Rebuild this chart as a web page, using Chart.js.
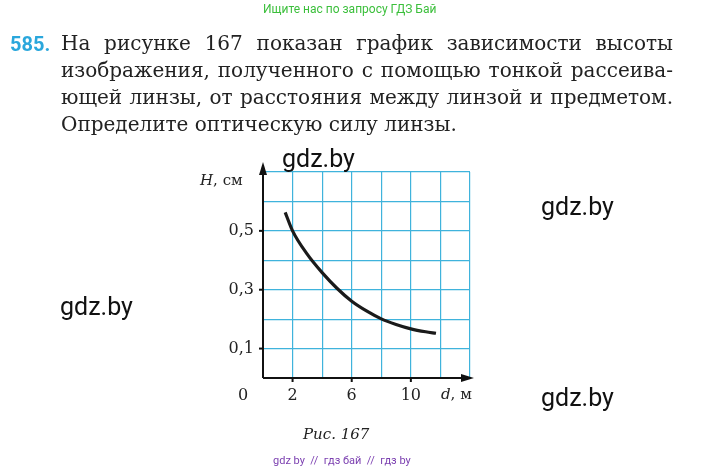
<!DOCTYPE html>
<html><head><meta charset="utf-8">
<script src="https://cdn.jsdelivr.net/npm/chart.js@4"></script>
<style>
body{margin:0;width:701px;height:472px;background:#fff;position:relative;overflow:hidden;font-family:"DejaVu Serif",serif;}
.t{position:absolute;white-space:nowrap;}
.line{position:absolute;left:61px;width:612px;font-size:20px;color:#222;text-align:justify;text-align-last:justify;}
.wm{position:absolute;font-family:Roboto,"Liberation Sans",sans-serif;font-size:25px;color:#111;}
canvas{position:absolute;left:0;top:0;}
</style></head><body>
<canvas id="c" width="701" height="472"></canvas>
<div class="t" style="left:263px;top:2px;font-family:Roboto,sans-serif;font-size:12px;color:#3bbf3b;">Ищите нас по запросу ГДЗ Бай</div>
<div class="t" style="left:10px;top:32px;font-family:Roboto,sans-serif;font-weight:bold;font-size:20px;color:#2aa7dc;">585.</div>
<div class="line" style="top:31px;">На рисунке 167 показан график зависимости высоты</div>
<div class="line" style="top:58px;">изображения, полученного с помощью тонкой рассеива-</div>
<div class="line" style="top:85px;">ющей линзы, от расстояния между линзой и предметом.</div>
<div class="t" style="left:61px;top:112px;font-size:20px;color:#222;">Определите оптическую силу линзы.</div>
<div class="wm" style="left:282px;top:144px;">gdz.by</div>
<div class="wm" style="left:541px;top:192px;">gdz.by</div>
<div class="wm" style="left:60px;top:292px;">gdz.by</div>
<div class="wm" style="left:541px;top:383px;">gdz.by</div>
<div class="t" style="left:200px;top:171px;font-size:15px;color:#222;"><i>H</i>, см</div>
<div class="t" style="left:238px;top:385px;font-size:16px;color:#222;">0</div>
<div class="t" style="left:441px;top:385px;font-size:15px;color:#222;"><i>d</i>, м</div>
<div class="t" style="left:303px;top:425px;font-size:15px;color:#222;"><i>Рис. 167</i></div>
<div class="t" style="left:273px;top:454px;font-family:Roboto,sans-serif;font-size:11px;color:#7b3fb0;">gdz by &nbsp;// &nbsp;гдз бай &nbsp;// &nbsp;гдз by</div>
<script>
const dValues=[1.5,2,3,4,5,6,7,8,9,10,11,11.7];
const hValues=[0.563,0.50,0.42,0.358,0.305,0.261,0.228,0.201,0.182,0.167,0.157,0.152];
const xTickLabels=[2,6,10];
const yTickLabels=[0.1,0.3,0.5];
const axisPlugin={id:'ax',afterDraw(ch){
 const c=ch.ctx,a=ch.chartArea,x=ch.scales.x,y=ch.scales.y;
 const x0=x.getPixelForValue(0),y0=y.getPixelForValue(0);
 c.save();c.strokeStyle='#111';c.fillStyle='#111';c.lineWidth=2;
 c.beginPath();c.moveTo(x0,y0);c.lineTo(x0,a.top-2);c.moveTo(x0,y0);c.lineTo(a.right+1,y0);c.stroke();
 c.beginPath();c.moveTo(x0,a.top-10);c.lineTo(x0-4,a.top+3);c.lineTo(x0+4,a.top+3);c.fill();
 c.beginPath();c.moveTo(a.right+4,y0);c.lineTo(a.right-9,y0-4);c.lineTo(a.right-9,y0+4);c.fill();
 for(const v of yTickLabels){const p=y.getPixelForValue(v);c.beginPath();c.moveTo(x0-4,p);c.lineTo(x0,p);c.stroke();}
 for(const v of xTickLabels){const p=x.getPixelForValue(v);c.beginPath();c.moveTo(p,y0);c.lineTo(p,y0+4);c.stroke();}
 c.restore();}};
new Chart(document.getElementById('c'),{type:'scatter',
 data:{datasets:[{data:dValues.map((d,i)=>({x:d,y:hValues[i]})),showLine:true,cubicInterpolationMode:'monotone',borderColor:'#1a1a1a',borderWidth:3.2,pointRadius:0}]},
 options:{responsive:false,animation:false,events:[],
  layout:{padding:{left:200,right:231,top:172,bottom:40}},
  plugins:{legend:{display:false},tooltip:{enabled:false}},
  scales:{
   x:{type:'linear',min:0,max:14,afterFit(s){s.height=54;},border:{display:false},
      grid:{color:'#3fb3dc',lineWidth:1.2,drawTicks:false},
      ticks:{stepSize:2,padding:8,color:'#222',font:{family:'DejaVu Serif',size:16},callback:v=>xTickLabels.includes(v)?String(v):''}},
   y:{type:'linear',min:0,max:0.7,afterFit(s){s.width=63;},border:{display:false},
      grid:{color:'#3fb3dc',lineWidth:1.2,drawTicks:false},
      ticks:{stepSize:0.1,padding:9,color:'#222',font:{family:'DejaVu Serif',size:16},
        callback:v=>{const r=Math.round(v*10)/10;return yTickLabels.includes(r)?r.toFixed(1).replace('.',','):'';}}}}},
 plugins:[axisPlugin]});
</script></body></html>
